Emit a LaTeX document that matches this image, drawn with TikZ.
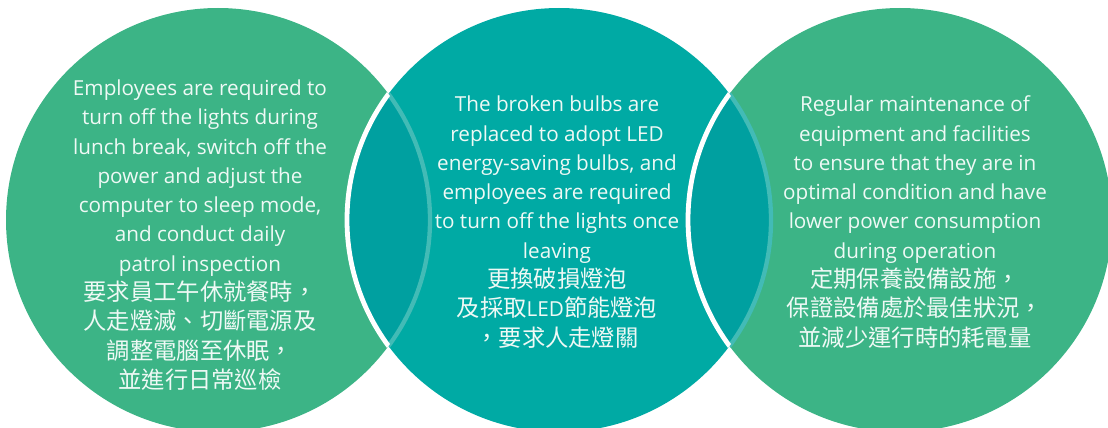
\documentclass[tikz,border=0pt]{standalone}
\usepackage{fontspec}
\setmainfont{Open Sans}
\newfontfamily\cjk{Noto Sans CJK TC}
\definecolor{cgreen}{RGB}{60,180,134}
\definecolor{cteal}{RGB}{0,170,164}
\definecolor{clens}{RGB}{0,160,160}
\definecolor{carc}{RGB}{66,187,182}
\definecolor{ctext}{RGB}{238,249,245}
\tikzset{
  venntext/.style={text=ctext, align=center, inner sep=0pt,
    font=\fontsize{20.7}{29.3}\selectfont},
}
\newcommand{\zh}[1]{{\cjk\fontsize{23.3}{29.3}\selectfont #1}}
\begin{document}
\begin{tikzpicture}[x=1pt,y=-1pt]
\useasboundingbox (0,0) rectangle (1108,428);
\def\R{212}
\coordinate (cl) at (218,220);
\coordinate (cc) at (559,220);
\coordinate (cr) at (900,220);
% base circles
\fill[cgreen] (cl) circle[radius=\R];
\fill[cgreen] (cr) circle[radius=\R];
\fill[cteal] (cc) circle[radius=\R];
% lenses
\begin{scope}
  \clip (cc) circle[radius=\R];
  \fill[clens] (cl) circle[radius=\R];
  \fill[clens] (cr) circle[radius=\R];
  \draw[carc, line width=4.3pt] (cl) circle[radius=\R];
\end{scope}
\begin{scope}
  \clip (cr) circle[radius=\R];
  \draw[carc, line width=4.3pt] (cc) circle[radius=\R];
\end{scope}
\begin{scope}
  \clip (cl) circle[radius=\R];
  \draw[white, line width=4.8pt] (cc) circle[radius=\R];
\end{scope}
\begin{scope}
  \clip (cc) circle[radius=\R];
  \draw[white, line width=4.8pt] (cr) circle[radius=\R];
\end{scope}
% texts
\node[venntext] (tl) at (200,235) {Employees are required to\\
turn off the lights during\\
lunch break, switch off the\\
power and adjust the\\
computer to sleep mode,\\
and conduct daily\\
patrol inspection\\
\zh{要求員工午休就餐時，}\\
\zh{人走燈滅、切斷電源及}\\
\zh{調整電腦至休眠，}\\
\zh{並進行日常巡檢}};
\node[venntext] (tc) at (557,222) {The broken bulbs are\\
replaced to adopt LED\\
energy-saving bulbs, and\\
employees are required\\
to turn off the lights once\\
leaving\\
\zh{更換破損燈泡}\\
\zh{及採取}LED\zh{節能燈泡}\\
\zh{，要求人走燈關}};
\node[venntext] (tr) at (915,222) {Regular maintenance of\\
equipment and facilities\\
to ensure that they are in\\
optimal condition and have\\
lower power consumption\\
during operation\\
\zh{定期保養設備設施，}\\
\zh{保證設備處於最佳狀況，}\\
\zh{並減少運行時的耗電量}};
\end{tikzpicture}
\end{document}
